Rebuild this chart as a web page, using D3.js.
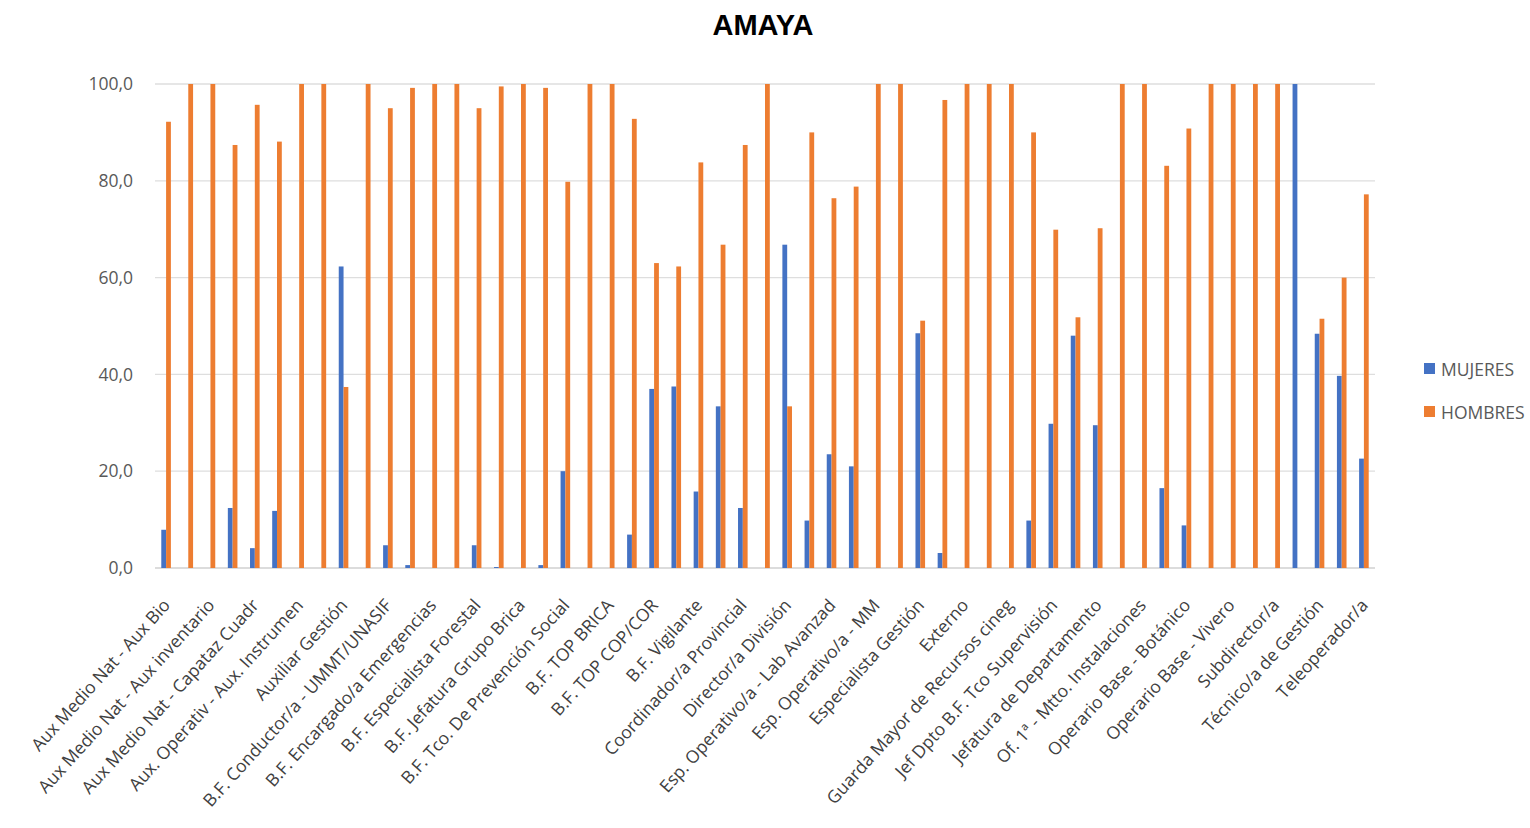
<!DOCTYPE html>
<html><head><meta charset="utf-8">
<script src="https://cdn.jsdelivr.net/npm/d3@7"></script>
<style>
html,body{margin:0;padding:0;background:#fff;}
svg{display:block;}
</style></head>
<body>
<script>
const categories = [
 "Aux Medio Nat - Aux Bio","(sin etiqueta 2)",
 "Aux Medio Nat - Aux inventario","(sin etiqueta 4)",
 "Aux Medio Nat - Capataz Cuadr","(sin etiqueta 6)",
 "Aux. Operativ - Aux. Instrumen","(sin etiqueta 8)",
 "Auxiliar Gestión","(sin etiqueta 10)",
 "B.F. Conductor/a - UMMT/UNASIF","(sin etiqueta 12)",
 "B.F. Encargado/a Emergencias","(sin etiqueta 14)",
 "B.F. Especialista Forestal","(sin etiqueta 16)",
 "B.F. Jefatura Grupo Brica","(sin etiqueta 18)",
 "B.F. Tco. De Prevención Social","(sin etiqueta 20)",
 "B.F. TOP BRICA","(sin etiqueta 22)",
 "B.F. TOP COP/COR","(sin etiqueta 24)",
 "B.F. Vigilante","(sin etiqueta 26)",
 "Coordinador/a Provincial","(sin etiqueta 28)",
 "Director/a División","(sin etiqueta 30)",
 "Esp. Operativo/a - Lab Avanzad","(sin etiqueta 32)",
 "Esp. Operativo/a - MM","(sin etiqueta 34)",
 "Especialista Gestión","(sin etiqueta 36)",
 "Externo","(sin etiqueta 38)",
 "Guarda Mayor de Recursos cineg","(sin etiqueta 40)",
 "Jef Dpto B.F. Tco Supervisión","(sin etiqueta 42)",
 "Jefatura de Departamento","(sin etiqueta 44)",
 "Of. 1ª - Mtto. Instalaciones","(sin etiqueta 46)",
 "Operario Base - Botánico","(sin etiqueta 48)",
 "Operario Base - Vivero","(sin etiqueta 50)",
 "Subdirector/a","(sin etiqueta 52)",
 "Técnico/a de Gestión","(sin etiqueta 54)",
 "Teleoperador/a"
];
const mujeres = [7.9,0,0,12.4,4.1,11.8,0,0,62.3,0,4.7,0.6,0,0,4.7,0.2,0,0.6,20.0,0,0,6.9,37.0,37.5,15.8,33.4,12.4,0,66.8,9.8,23.5,21.0,0,0,48.5,3.1,0,0,0,9.8,29.8,48.0,29.5,0,0,16.5,8.8,0,0,0,0,100,48.4,39.7,22.6];
const hombres = [92.2,100,100,87.4,95.7,88.1,100,100,37.4,100,95.0,99.2,100,100,95.0,99.5,100,99.2,79.8,100,100,92.8,63.0,62.3,83.8,66.8,87.4,100,33.4,90.0,76.4,78.8,100,100,51.1,96.7,100,100,100,90.0,69.9,51.8,70.2,100,100,83.1,90.8,100,100,100,100,0,51.5,60.0,77.2];
const yTicks = [0,20,40,60,80,100];
const seriesNames = ["MUJERES","HOMBRES"];
const colors = ["#4472C4","#ED7D31"];
const title = "AMAYA";

const W=1530,H=828;
const svg=d3.select("body").append("svg").attr("width",W).attr("height",H);
const x=d3.scaleBand().domain(d3.range(categories.length)).range([155,1375]).paddingInner(0).paddingOuter(0);
const y=d3.scaleLinear().domain([0,100]).range([568,84]);
const barW=4.8;
const fmt=d=>d3.format(".1f")(d).replace(".",",");

// gridlines
svg.append("g").selectAll("line").data(yTicks).join("line")
 .attr("x1",155).attr("x2",1375).attr("y1",d=>y(d)).attr("y2",d=>y(d))
 .attr("stroke",d=>d===0?"#d0d0d0":"#dedede").attr("stroke-width",1.3);

// y axis labels
const yAxis=d3.axisLeft(y).tickValues(yTicks).tickFormat(fmt).tickSize(0).tickPadding(0);
const gy=svg.append("g").attr("transform","translate(133,0)").call(yAxis);
gy.select(".domain").remove();
gy.selectAll("text").attr("fill","#595959").style("font-family","'Open Sans',sans-serif").style("font-size","17.5px");

// bars
const series=[mujeres,hombres];
series.forEach((vals,si)=>{
 svg.append("g").selectAll("rect").data(vals).join("rect")
  .attr("x",(d,i)=>x(i)+x.bandwidth()/2-barW+si*barW)
  .attr("y",d=>y(d)).attr("width",barW).attr("height",d=>y(0)-y(d))
  .attr("fill",colors[si]);
});

// x axis labels
const xAxis=d3.axisBottom(x).tickFormat(i=>i%2===0?categories[i]:"").tickSize(0).tickPadding(0);
const gx=svg.append("g").attr("transform","translate(0,568)").call(xAxis);
gx.select(".domain").remove();
gx.selectAll("text").attr("fill","#404040").style("font-family","'Open Sans',sans-serif").style("font-size","17.5px")
 .attr("text-anchor","end").attr("dy",null).attr("y",null)
 .attr("transform","translate(5,38) rotate(-48)");

// title
svg.append("text").attr("x",763).attr("y",35).attr("text-anchor","middle")
 .style("font-family","'Liberation Sans',Arial,sans-serif").style("font-weight","bold").style("font-size","29px")
 .attr("fill","#000").text(title);

// legend
const lg=svg.append("g");
seriesNames.forEach((n,i)=>{
 const yy=369+i*43;
 lg.append("rect").attr("x",1424).attr("y",yy-6).attr("width",11).attr("height",11).attr("fill",colors[i]);
 lg.append("text").attr("x",1441).attr("y",yy+6.5).text(n).attr("fill","#595959")
  .style("font-family","'Open Sans',sans-serif").style("font-size","17.5px");
});
</script>
</body></html>
